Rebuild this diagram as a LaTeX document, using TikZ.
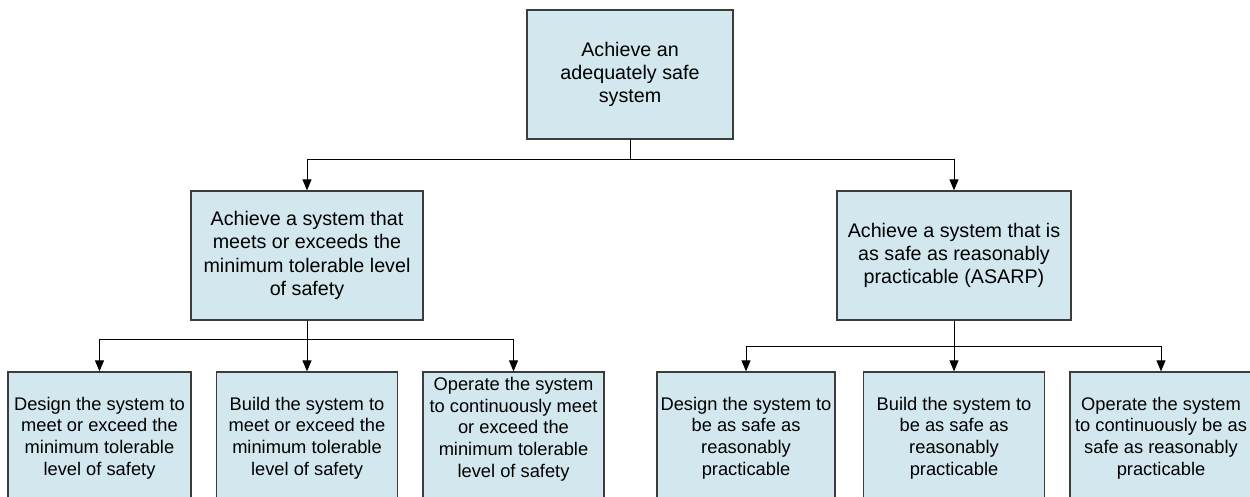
\documentclass[tikz,border=0pt]{standalone}
\usepackage{fontspec}
\setmainfont{Liberation Sans}
\usepackage{xcolor}
\usepackage{tikz}
\usetikzlibrary{arrows.meta,positioning,calc}

\definecolor{goalfill}{RGB}{210,232,238}
\definecolor{goalline}{RGB}{60,60,60}

\begin{document}
\begin{tikzpicture}[x=1pt,y=-1pt,
  goal/.style={draw=goalline, line width=1.3pt, fill=goalfill, rectangle, inner sep=0pt,
    align=center, minimum height=129pt, font=\fontsize{19.7pt}{23.3pt}\selectfont},
  leaf/.style={goal, minimum height=132pt, font=\fontsize{18.3pt}{21.7pt}\selectfont},
  link/.style={line width=1pt, -{Triangle[width=9pt,length=11pt]}}]
\useasboundingbox (0,0) rectangle (1250,497);
\clip (0,0) rectangle (1250,497);

% Top goal
\node[goal, minimum width=206pt] (top) at (630,74.5) {Achieve an\\adequately safe\\system};

% Second level
\node[goal, minimum width=232pt] (tol) at (307,255.5) {Achieve a system that\\meets or exceeds the\\minimum tolerable level\\of safety};
\node[goal, minimum width=234pt] (asarp) at (954,255.5) {Achieve a system that is\\as safe as reasonably\\practicable (ASARP)};

% Bottom level, tolerable branch
\node[leaf, minimum width=183pt] (tdesign) at (99.5,438) {Design the system to\\meet or exceed the\\minimum tolerable\\level of safety};
\node[leaf, minimum width=181pt] (tbuild) at (307,438) {Build the system to\\meet or exceed the\\minimum tolerable\\level of safety};
\node[leaf, minimum width=181pt] (toperate) at (513.5,438) {Operate the system\\to continuously meet\\or exceed the\\minimum tolerable\\level of safety\\\mbox{}};

% Bottom level, ASARP branch
\node[leaf, minimum width=178pt] (adesign) at (746,438) {Design the system to\\be as safe as\\reasonably\\practicable};
\node[leaf, minimum width=181pt] (abuild) at (954,438) {Build the system to\\be as safe as\\reasonably\\practicable};
\node[leaf, minimum width=182pt] (aoperate) at (1161,438) {Operate the system\\to continuously be as\\safe as reasonably\\practicable};

% Connectors
\draw[link] (top.south) -- ++(0,20) -| (tol.north);
\draw[link] (top.south) -- ++(0,20) -| (asarp.north);

\draw[link] (tol.south) -- ++(0,19) -| (tdesign.north);
\draw[link] (tol.south) -- (tbuild.north);
\draw[link] (tol.south) -- ++(0,19) -| (toperate.north);

\draw[link] (asarp.south) -- ++(0,26) -| (adesign.north);
\draw[link] (asarp.south) -- (abuild.north);
\draw[link] (asarp.south) -- ++(0,26) -| (aoperate.north);
\end{tikzpicture}
\end{document}
